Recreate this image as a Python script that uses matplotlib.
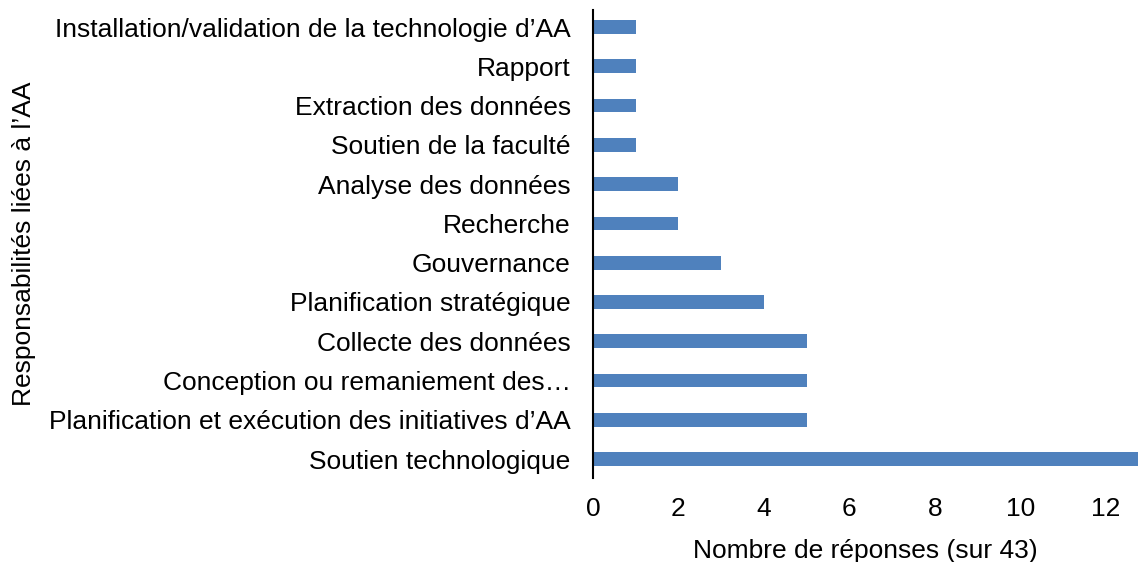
import matplotlib
matplotlib.use("Agg")
import matplotlib.pyplot as plt

plt.rcParams["font.family"] = ["Liberation Sans", "DejaVu Sans"]
plt.rcParams["font.size"] = 19

categories = [
    "Soutien technologique",
    "Planification et exécution des initiatives d’AA",
    "Conception ou remaniement des…",
    "Collecte des données",
    "Planification stratégique",
    "Gouvernance",
    "Recherche",
    "Analyse des données",
    "Soutien de la faculté",
    "Extraction des données",
    "Rapport",
    "Installation/validation de la technologie d’AA",
]
values = [13, 5, 5, 5, 4, 3, 2, 2, 1, 1, 1, 1]
xticks = [0, 2, 4, 6, 8, 10, 12]

fig = plt.figure(figsize=(11.38, 5.62), dpi=100)
ax = fig.add_axes([0.521, 0.1495, 0.479, 0.8325])

ax.barh(range(len(categories)), values, height=0.35, color="#4F81BD")
ax.set_yticks(range(len(categories)))
ax.set_yticklabels(categories)
ax.set_xticks(xticks)
ax.set_xlim(0, 12.75)
ax.set_ylim(-0.48, 11.43)

for s in ["top", "right", "bottom"]:
    ax.spines[s].set_visible(False)
ax.spines["left"].set_linewidth(1.5)
ax.tick_params(axis="both", length=0)
ax.tick_params(axis="y", pad=16)
ax.tick_params(axis="x", pad=14)

ax.set_xlabel("Nombre de réponses (sur 43)", labelpad=13)
ax.set_ylabel("Responsabilités liées à l’AA")
ax.yaxis.set_label_coords(-1.022, 0.5)

fig.savefig("out.png", dpi=100)
